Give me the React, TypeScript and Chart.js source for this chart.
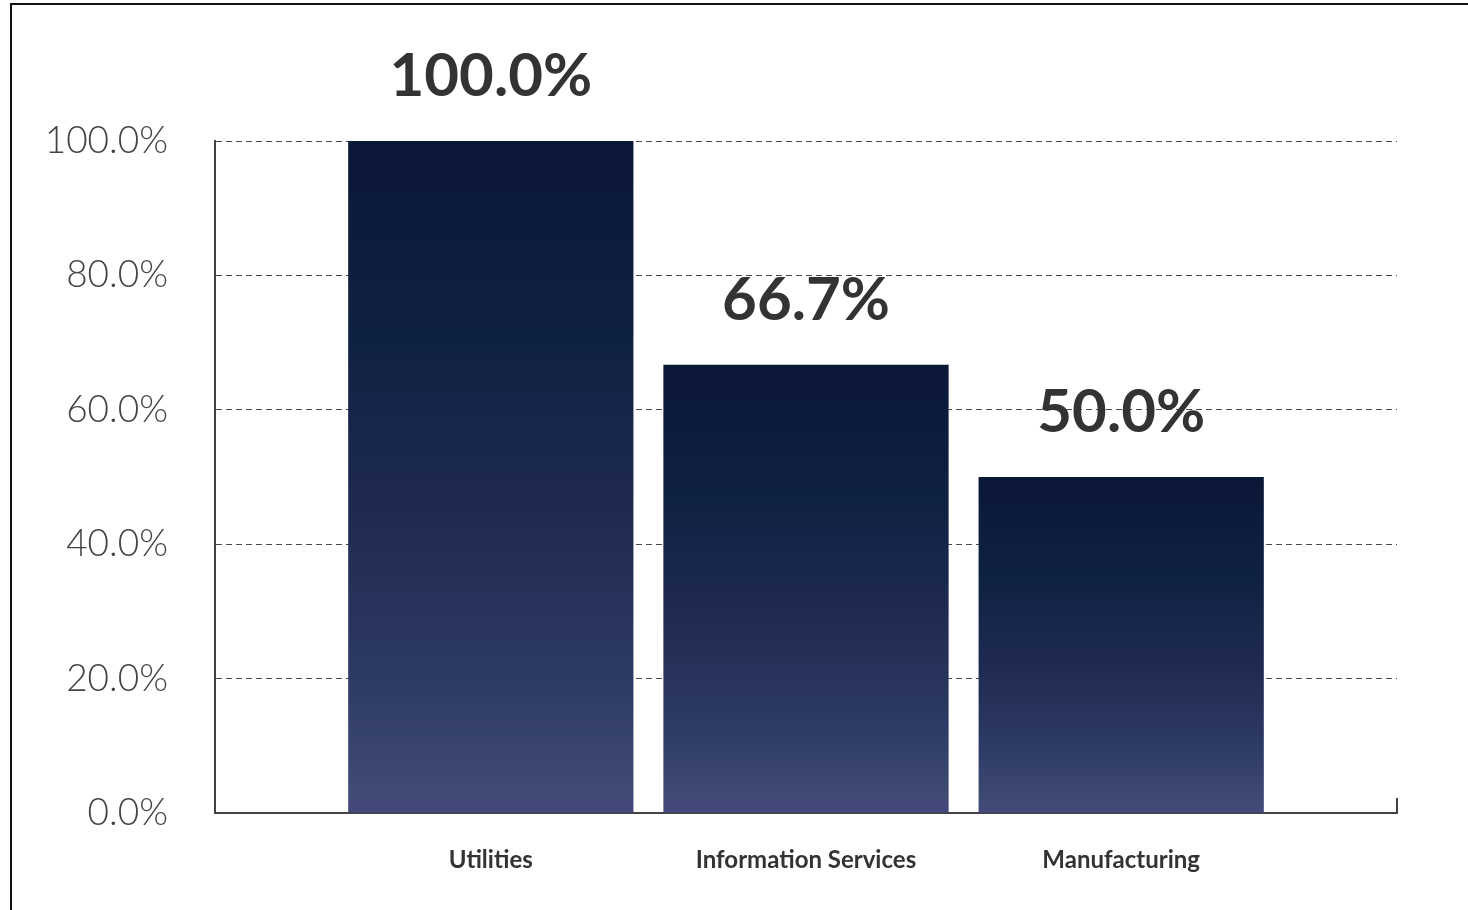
import React, { useEffect, useRef } from "react";
import { Chart, registerables } from "chart.js";

Chart.register(...registerables);

const categories = ["Utilities", "Information Services", "Manufacturing"];
const values = [100.0, 66.7, 50.0];
const yTicks = [0, 20, 40, 60, 80, 100];

const labelPlugin = {
  id: "barLabels",
  afterDatasetsDraw(chart: any) {
    const { ctx, chartArea } = chart;
    const meta = chart.getDatasetMeta(0);
    ctx.save();
    ctx.font = "bold 60px Lato, 'Open Sans', sans-serif";
    ctx.fillStyle = "#333333";
    ctx.textAlign = "center";
    ctx.textBaseline = "alphabetic";
    meta.data.forEach((bar: any, i: number) => {
      ctx.fillText(values[i].toFixed(1) + "%", bar.x, bar.y - 45);
    });
    // right-end tick of the x axis
    ctx.strokeStyle = "#444444";
    ctx.lineWidth = 2;
    ctx.beginPath();
    ctx.moveTo(chartArea.right, chartArea.bottom);
    ctx.lineTo(chartArea.right, chartArea.bottom - 15);
    ctx.stroke();
    ctx.restore();
  },
};

export default function App() {
  const ref = useRef<HTMLCanvasElement>(null);
  useEffect(() => {
    if (!ref.current) return;
    const chart = new Chart(ref.current, {
      type: "bar",
      data: {
        datasets: [
          {
            data: values.map((v, i) => ({ x: i, y: v })),
            categoryPercentage: 1,
            barPercentage: 0.905,
            backgroundColor: (c: any) => {
              const ch = c.chart;
              const area = ch.chartArea;
              if (!area || c.raw == null) return "#1e2a4e";
              const ys = ch.scales.y;
              const top = ys.getPixelForValue(c.raw.y);
              const bottom = ys.getPixelForValue(0);
              const g = ch.ctx.createLinearGradient(0, top, 0, bottom);
              g.addColorStop(0, "#0b1737");
              g.addColorStop(0.3, "#0f2143");
              g.addColorStop(0.55, "#1f2a50");
              g.addColorStop(0.8, "#2d3a65");
              g.addColorStop(0.96, "#3e4a74");
              g.addColorStop(1, "#45477a");
              return g;
            },
            borderWidth: 0,
          },
        ],
      },
      options: {
        animation: false,
        responsive: false,
        maintainAspectRatio: false,
        layout: { padding: { top: 141, right: 71, left: 0, bottom: 0 } },
        plugins: { legend: { display: false }, tooltip: { enabled: false } },
        scales: {
          x: {
            type: "linear",
            offset: false,
            min: -0.875,
            max: 2.875,
            afterBuildTicks: (axis: any) => {
              axis.ticks = categories.map((_, i) => ({ value: i }));
            },
            afterFit: (axis: any) => {
              axis.height = 97;
            },
            grid: { display: false, drawTicks: false, offset: false },
            border: { display: true, color: "#444444", width: 2 },
            ticks: {
              autoSkip: false,
              maxRotation: 0,
              padding: 33,
              color: "#333333",
              font: { family: "Lato, 'Open Sans', sans-serif", size: 24, weight: "bold" },
              callback: (v: any) => categories[v] ?? "",
            },
          },
          y: {
            min: 0,
            max: 100,
            afterBuildTicks: (axis: any) => {
              axis.ticks = yTicks.map((v) => ({ value: v }));
            },
            afterFit: (axis: any) => {
              axis.width = 215;
            },
            grid: {
              color: "#4a4a4a",
              lineWidth: 1,
              drawTicks: false,
            },
            border: { display: true, color: "#444444", width: 2, dash: [6, 4] as any },
            ticks: {
              padding: 47,
              color: "#444444",
              font: { family: "Lato, 'Open Sans', sans-serif", size: 37, weight: "300" },
              callback: (v: any) => Number(v).toFixed(1) + "%",
            },
          },
        },
      },
      plugins: [labelPlugin],
    } as any);
    return () => chart.destroy();
  }, []);

  return (
    <div style={{ position: "fixed", left: 0, top: 0, width: 1468, height: 910, background: "#fff" }}>
      <canvas ref={ref} width={1468} height={910} style={{ position: "absolute", left: 0, top: 0 }} />
      <div
        style={{
          position: "absolute",
          left: 10,
          top: 3,
          width: 1500,
          height: 1000,
          border: "2px solid #111",
          pointerEvents: "none",
        }}
      />
    </div>
  );
}
